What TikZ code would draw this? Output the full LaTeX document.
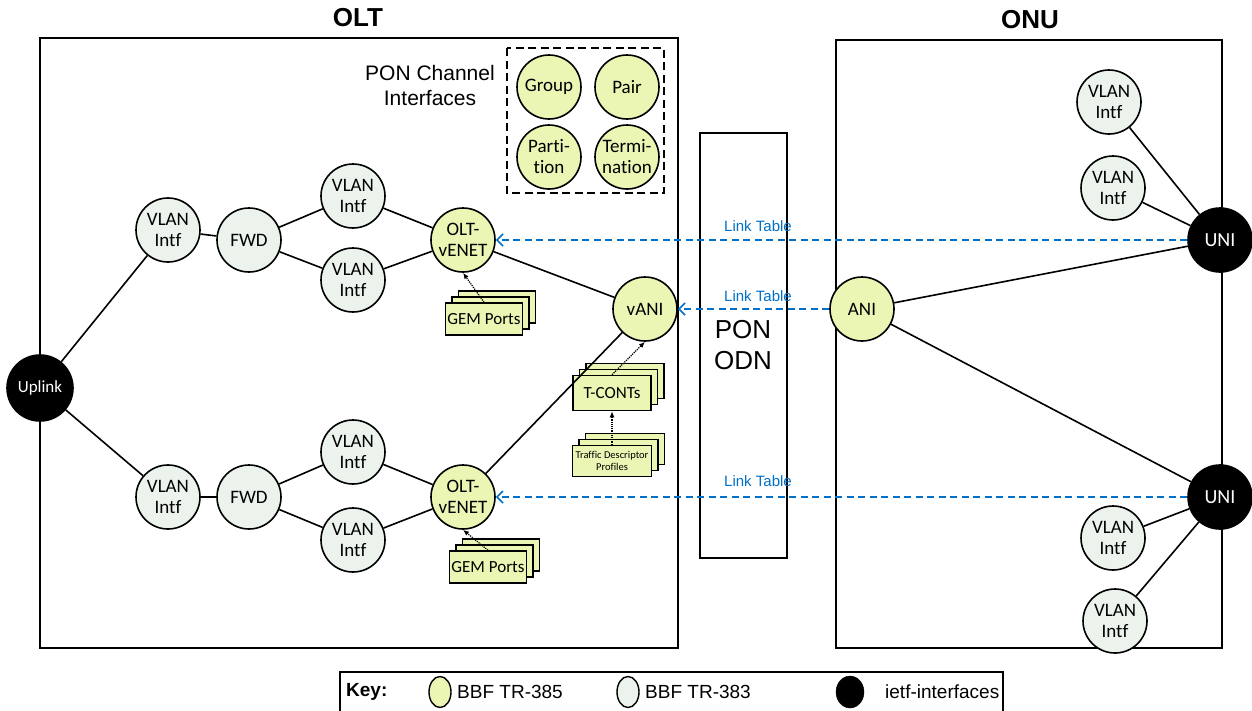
\documentclass[tikz,border=0pt]{standalone}
\usepackage{fontspec}
\setmainfont{Carlito}[Ligatures={NoCommon,NoContextual,NoRare}]
\newfontfamily\arial{Liberation Sans}
\usetikzlibrary{arrows.meta,shadows,shapes.geometric}
\definecolor{trgreen}{RGB}{235,245,180}
\definecolor{trgrey}{RGB}{236,243,236}
\definecolor{linkblue}{RGB}{0,112,200}
\begin{document}
\begin{tikzpicture}[x=1pt,y=-1pt,
  every node/.style={inner sep=0pt, align=center},
  ifc/.style={circle, draw, line width=1.6pt, minimum size=64pt, font=\fontsize{19}{21}\selectfont},
  tr385/.style={ifc, fill=trgreen},
  tr383/.style={ifc, fill=trgrey},
  ietf/.style={ifc, fill=black, text=white},
  stackbox/.style={rectangle, draw, fill=trgreen, line width=1.5pt,
    minimum width=77pt, minimum height=32pt, font=\fontsize{17}{19}\selectfont,
    general shadow={shadow xshift=13pt, shadow yshift=12pt, fill=trgreen, draw=black, line width=1.5pt},
    general shadow={shadow xshift=6.5pt, shadow yshift=6pt, fill=trgreen, draw=black, line width=1.5pt}},
  frame/.style={draw, line width=1.6pt},
  link/.style={line width=1.6pt},
  assoc/.style={densely dotted, line width=1.2pt, -{Latex[length=6pt,width=5pt]}},
  linktab/.style={linkblue, line width=1.7pt, dash pattern=on 7pt off 4.5pt, -{Straight Barb[length=6pt,width=12pt]}},
  linklabel/.style={text=linkblue, font=\arial\fontsize{15}{17}\selectfont},
  title/.style={font=\arial\bfseries\fontsize{26}{30}\selectfont},
  keytext/.style={font=\arial\fontsize{19}{22}\selectfont, anchor=west}
]
\useasboundingbox (0,0) rectangle (1252,710);

% enclosures
\draw[frame] (40,38) rectangle (678,648);
\draw[frame] (836,40) rectangle (1222,648);
\draw[frame] (700,133) rectangle (787,558);
\draw[line width=1.8pt, dash pattern=on 8pt off 4.5pt] (507,48) rectangle (664,193);
\node[title] (olt) at (358,18) {OLT};
\node[title] (onu) at (1030,20) {ONU};
\node[font=\arial\fontsize{26}{31}\selectfont] (odn) at (743,345) {PON\\ODN};
\node[font=\arial\fontsize{21}{25}\selectfont] (pci) at (430,85) {PON Channel\\Interfaces};

% PON channel interfaces (kerns keep "t" and "i" as separate glyphs)
\node[tr385] (grp) at (549,87) {Group};
\node[tr385] (pair) at (627,87) {Pair};
\node[tr385] (part) at (549,157) {Part\kern0pt i-\\t\kern0pt ion};
\node[tr385] (term) at (627,157) {Termi-\\nation};

% OLT
\node[ietf, minimum size=66pt, font=\fontsize{17}{20}\selectfont] (up) at (40,388) {Uplink};
\node[tr383] (v1) at (168,230) {VLAN\\Intf};
\node[tr383] (f1) at (249,240) {FWD};
\node[tr383] (v1a) at (353,196) {VLAN\\Intf};
\node[tr383] (v1b) at (353,280) {VLAN\\Intf};
\node[tr385] (ve1) at (463,240) {OLT-\\vENET};
\node[tr383] (v2) at (168,497) {VLAN\\Intf};
\node[tr383] (f2) at (249,497) {FWD};
\node[tr383] (v2a) at (353,452) {VLAN\\Intf};
\node[tr383] (v2b) at (353,540) {VLAN\\Intf};
\node[tr385] (ve2) at (463,497) {OLT-\\vENET};
\node[tr385] (vani) at (645,309) {vANI};

\node[stackbox] (gem1) at (484,319) {GEM Ports};
\node[stackbox] (gem2) at (488,567) {GEM Ports};
\node[stackbox, minimum width=78pt, minimum height=35pt] (tc) at (612,393) {T-CONTs};
\node[stackbox, minimum width=79pt, minimum height=31pt, font=\fontsize{10.5}{12.5}\selectfont] (tdp) at (612,461) {Traffic Descriptor\\Profiles};

\draw[link] (up) -- (v1);
\draw[link] (up) -- (v2);
\draw[link] (v1) -- (f1);
\draw[link] (f1) -- (v1a);
\draw[link] (f1) -- (v1b);
\draw[link] (v1a) -- (ve1);
\draw[link] (v1b) -- (ve1);
\draw[link] (v2) -- (f2);
\draw[link] (f2) -- (v2a);
\draw[link] (f2) -- (v2b);
\draw[link] (v2a) -- (ve2);
\draw[link] (v2b) -- (ve2);
\draw[link] (ve1) -- (vani);
\draw[link] (ve2) -- (vani);

\draw[assoc] (gem1.north) -- (ve1.south);
\draw[assoc] (gem2.north) -- (ve2.south);
\draw[assoc] (tc.north) -- (vani.south);
\draw[assoc] (tdp.north) -- (tc.south);

% ONU
\node[tr385] (ani) at (862,309) {ANI};
\node[ietf, font=\fontsize{20}{22}\selectfont] (uni1) at (1220,240) {UNI};
\node[ietf, font=\fontsize{20}{22}\selectfont] (uni2) at (1220,497) {UNI};
\node[tr383] (w1) at (1109,102) {VLAN\\Intf};
\node[tr383] (w2) at (1113,188) {VLAN\\Intf};
\node[tr383] (w3) at (1113,538) {VLAN\\Intf};
\node[tr383] (w4) at (1115,621) {VLAN\\Intf};

\draw[link] (ani) -- (uni1);
\draw[link] (ani) -- (uni2);
\draw[link] (w1) -- (uni1);
\draw[link] (w2) -- (uni1);
\draw[link] (w3) -- (uni2);
\draw[link] (w4) -- (uni2);

% link tables
\draw[linktab] (uni1.west) -- (ve1.east);
\draw[linktab] (ani.west) -- (vani.east);
\draw[linktab] (uni2.west) -- (ve2.east);
\node[linklabel] (lt1) at (758,226) {Link Table};
\node[linklabel] (lt2) at (758,296) {Link Table};
\node[linklabel] (lt3) at (758,481) {Link Table};

% key
\draw[frame, line width=1.2pt] (340,672) rectangle (1003,716);
\node[font=\arial\bfseries\fontsize{19}{22}\selectfont, anchor=west] (key) at (346,692) {Key:};
\node[draw, line width=1.4pt, fill=trgreen, ellipse, minimum width=22pt, minimum height=31pt] (k1) at (440,692) {};
\node[keytext] (k1t) at (457,692) {BBF TR-385};
\node[draw, line width=1.4pt, fill=trgrey, ellipse, minimum width=22pt, minimum height=31pt] (k2) at (628,692) {};
\node[keytext] (k2t) at (645,692) {BBF TR-383};
\node[draw, fill=black, ellipse, minimum width=28pt, minimum height=32pt] (k3) at (850,692) {};
\node[keytext] (k3t) at (885,692) {ietf-interfaces};
\end{tikzpicture}
\end{document}
